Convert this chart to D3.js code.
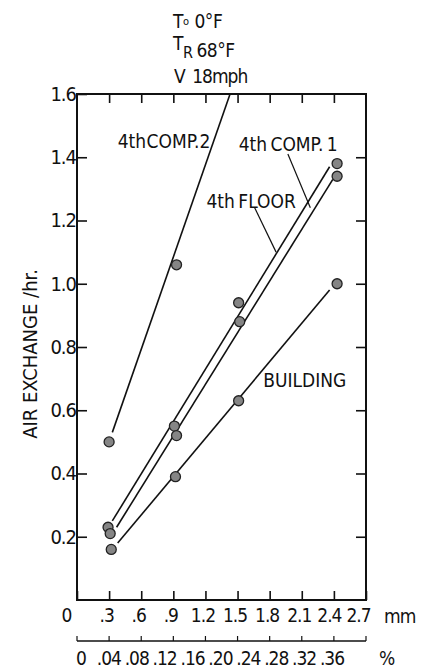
<!DOCTYPE html>
<meta charset="utf-8">
<style>
body { margin: 0; background: #fff; }
svg text { font-family: "DejaVu Sans Condensed", "DejaVu Sans", sans-serif; fill: #111; }
.frame { fill: none; stroke: #111; stroke-width: 2px; }
.fit { stroke: #111; stroke-width: 1.6px; fill: none; }
.leader { stroke: #111; stroke-width: 1.2px; }
.dot { fill: #858585; stroke: #222; stroke-width: 1.3px; }
.tick line { stroke: #111; stroke-width: 1.6px; }
.num { font-size: 19px; letter-spacing: -1px; }
</style>
<svg width="426" height="670"></svg>
<script src="https://cdnjs.cloudflare.com/ajax/libs/d3/7.8.5/d3.min.js"></script>
<script>

// tick labels
var mmTicks = [0, 0.3, 0.6, 0.9, 1.2, 1.5, 1.8, 2.1, 2.4, 2.7];
var pctTicks = [0, 0.04, 0.08, 0.12, 0.16, 0.20, 0.24, 0.28, 0.32, 0.36];
var yTicks = [0.2, 0.4, 0.6, 0.8, 1.0, 1.2, 1.4, 1.6];

// measured points (crack width mm, air exchange /hr)
var comp2X = [0.30, 0.93];
var comp2Y = [0.50, 1.06];
var floorX = [0.29, 0.91, 1.51, 2.43];
var floorY = [0.23, 0.55, 0.94, 1.38];
var comp1X = [0.31, 0.93, 1.52, 2.43];
var comp1Y = [0.21, 0.52, 0.88, 1.34];
var buildX = [0.32, 0.92, 1.51, 2.43];
var buildY = [0.16, 0.39, 0.63, 1.00];

// fitted lines (start, end)
var comp2Fit = [[0.33, 0.53], [1.43, 1.60]];
var floorFit = [[0.33, 0.25], [2.36, 1.37]];
var comp1Fit = [[0.37, 0.23], [2.39, 1.33]];
var buildFit = [[0.38, 0.18], [2.36, 0.98]];

var svg = d3.select("svg");

var x = d3.scaleLinear().domain([0, 2.7]).range([77, 366]);
var y = d3.scaleLinear().domain([0, 1.6]).range([600, 94]);
// second scale, labels only
var xp = d3.scaleLinear().domain([0, 0.36]).range([81, 332]);

// header
var head = svg.append("g").style("font-size", "19px").style("letter-spacing", "-0.5px");
var h1 = head.append("text").attr("x", 173).attr("y", 28);
h1.append("tspan").text("T");
h1.append("tspan").attr("dy", -3).style("font-size", "11px").text("o");
h1.append("tspan").attr("dy", 3).attr("dx", 6).text("0°F");
var h2 = head.append("text").attr("x", 173).attr("y", 57);
h2.append("tspan").attr("dy", -7).text("T");
h2.append("tspan").attr("dy", 8).style("font-size", "16px").text("R");
h2.append("tspan").attr("dy", -1).attr("dx", 4).text("68°F");
var h3 = head.append("text").attr("x", 174).attr("y", 83);
h3.append("tspan").text("V");
h3.append("tspan").attr("dx", 7).style("letter-spacing", "-1px").text("18mph");

// axes (ticks inward)
function mmFmt(d) { return d === 0 ? "0" : d3.format(".1f")(d).replace(/^0/, ""); }
function pctFmt(d) { return d === 0 ? "0" : d3.format(".2f")(d).replace(/^0/, ""); }

var gx = svg.append("g")
    .attr("transform", "translate(0," + y(0) + ")")
    .call(d3.axisBottom(x).tickValues(mmTicks).tickSize(-9).tickPadding(9).tickFormat(mmFmt));
gx.selectAll("text").attr("class", "num")
    .attr("x", function(d) { return d === 0 ? -11 : d === 2.7 ? -8 : d === 2.4 ? -5 : -3; });

var gt = svg.append("g")
    .attr("transform", "translate(0," + y(1.6) + ")")
    .call(d3.axisTop(x).tickValues(mmTicks.slice(1, -1)).tickSize(-9).tickFormat(""));

var gy = svg.append("g")
    .attr("transform", "translate(" + x(0) + ",0)")
    .call(d3.axisLeft(y).tickValues(yTicks).tickSize(-10).tickPadding(1).tickFormat(d3.format(".1f")));
gy.selectAll("text").attr("class", "num").style("font-size", "20px");

var gr = svg.append("g")
    .attr("transform", "translate(" + x(2.7) + ",0)")
    .call(d3.axisRight(y).tickValues(yTicks.slice(0, -1)).tickSize(-10).tickFormat(""));

[gx, gt, gy, gr].forEach(function(g) { g.select(".domain").remove(); g.attr("font-size", null).attr("font-family", null); });

svg.append("rect").attr("class", "frame")
    .attr("x", x(0)).attr("y", y(1.6))
    .attr("width", x(2.7) - x(0)).attr("height", y(0) - y(1.6));

svg.append("text").attr("x", 384).attr("y", 623).attr("class", "num").text("mm");

// percent scale under the mm axis
var pctY = 641;
svg.append("line").attr("class", "leader")
    .attr("x1", x(0)).attr("x2", x(2.7)).attr("y1", pctY).attr("y2", pctY)
    .style("stroke-width", "1.6px");
svg.append("g").selectAll("line").data(mmTicks).enter().append("line")
    .attr("class", "leader")
    .attr("x1", function(d) { return x(d); }).attr("x2", function(d) { return x(d); })
    .attr("y1", pctY).attr("y2", pctY - 5);
svg.append("g").selectAll("text").data(pctTicks).enter().append("text")
    .attr("class", "num")
    .attr("x", function(d) { return xp(d); }).attr("y", 665)
    .attr("text-anchor", "middle")
    .text(pctFmt);
svg.append("text").attr("x", 379).attr("y", 665).attr("class", "num").text("%");

// y title
svg.append("text")
    .attr("transform", "translate(37,354) rotate(-90)")
    .attr("text-anchor", "middle")
    .style("font-size", "20px")
    .text("AIR EXCHANGE /hr.");

// fitted lines
var fits = [comp2Fit, floorFit, comp1Fit, buildFit];
svg.append("g").selectAll("line").data(fits).enter().append("line")
    .attr("class", "fit")
    .attr("x1", function(d) { return x(d[0][0]); }).attr("y1", function(d) { return y(d[0][1]); })
    .attr("x2", function(d) { return x(d[1][0]); }).attr("y2", function(d) { return y(d[1][1]); });

// points
var pts = [];
[[comp2X, comp2Y], [floorX, floorY], [comp1X, comp1Y], [buildX, buildY]].forEach(function(s) {
  s[0].forEach(function(v, i) { pts.push([v, s[1][i]]); });
});
svg.append("g").selectAll("circle").data(pts).enter().append("circle")
    .attr("class", "dot").attr("r", 5)
    .attr("cx", function(d) { return x(d[0]); })
    .attr("cy", function(d) { return y(d[1]); });

// labels + leaders
var lab = svg.append("g").style("font-size", "19px");
lab.append("text").attr("x", x(0.38)).attr("y", y(1.43)).style("word-spacing", "-5px").text("4th COMP.2");
lab.append("text").attr("x", x(1.51)).attr("y", y(1.42)).style("word-spacing", "-2px").text("4th COMP. 1");
lab.append("text").attr("x", x(1.21)).attr("y", y(1.24)).style("word-spacing", "-2px").text("4th FLOOR");
lab.append("text").attr("x", x(1.74)).attr("y", y(0.675)).text("BUILDING");

svg.append("line").attr("class", "leader")
    .attr("x1", x(1.97)).attr("y1", y(1.41)).attr("x2", x(2.18)).attr("y2", y(1.24));
svg.append("line").attr("class", "leader")
    .attr("x1", x(1.66)).attr("y1", y(1.24)).attr("x2", x(1.86)).attr("y2", y(1.10));

</script>
